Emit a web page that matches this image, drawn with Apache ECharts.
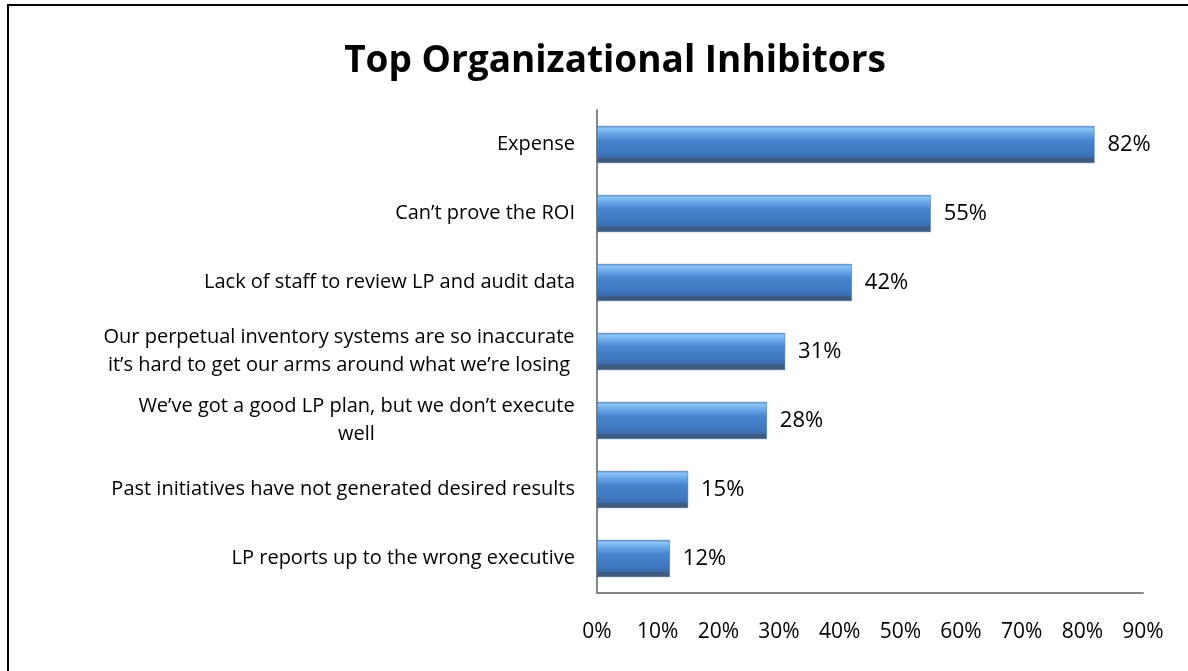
<!DOCTYPE html>
<html>
<head>
<meta charset="utf-8">
<title>Top Organizational Inhibitors</title>
<script src="https://cdn.jsdelivr.net/npm/echarts@6/dist/echarts.min.js"></script>
<style>
  html, body { margin: 0; padding: 0; background: #fff; }
  #chart { width: 1188px; height: 671px; }
</style>
</head>
<body>
<div id="chart"></div>
<script>
// 数据
const categories = [
  'Expense',
  'Can\u2019t prove the ROI',
  'Lack of staff to review LP and audit data',
  'Our perpetual inventory systems are so inaccurate\nit\u2019s hard to get our arms around what we\u2019re losing',
  'We\u2019ve got a good LP plan, but we don\u2019t execute\nwell',
  'Past initiatives have not generated desired results',
  'LP reports up to the wrong executive'
]
const percentValues = [82, 55, 42, 31, 28, 15, 12]
const tickValues = [0, 10, 20, 30, 40, 50, 60, 70, 80, 90]

const labelSize = 20
const labelFont = labelSize + 'px "Open Sans"'

// multi-line labels are centred on their widest line, like the original
const measureCtx = document.createElement('canvas').getContext('2d')
measureCtx.font = labelFont
const rich = {}
categories.forEach((name, i) => {
  const lines = name.split('\n')
  if (lines.length > 1) {
    const w = Math.max(...lines.map(l => measureCtx.measureText(l).width))
    rich['c' + i] = {
      width: Math.ceil(w),
      align: 'center',
      fontSize: labelSize,
      lineHeight: 28,
      color: '#000',
      fontFamily: 'Open Sans'
    }
  }
})

const chart = echarts.init(document.getElementById('chart'))

const axisGray = '#868686'

const option = {
  backgroundColor: '#fff',
  animation: false,
  title: {
    text: 'Top Organizational Inhibitors',
    left: 610,
    top: 38,
    textAlign: 'center',
    textStyle: {
      fontFamily: 'Open Sans',
      fontWeight: 'bold',
      fontSize: 37,
      color: '#000'
    }
  },
  graphic: [
    {
      // outer frame, cut off on the right and bottom like the source image
      type: 'rect',
      shape: { x: 8, y: 5, width: 1400, height: 900 },
      style: { fill: 'none', stroke: '#000', lineWidth: 2 },
      silent: true
    }
  ],
  grid: {
    left: 597,
    right: 45,
    top: 110,
    bottom: 78
  },
  xAxis: {
    type: 'value',
    min: tickValues[0],
    max: tickValues[tickValues.length - 1],
    interval: tickValues[1] - tickValues[0],
    axisLine: { show: true, lineStyle: { color: axisGray, width: 2 } },
    axisTick: { show: false },
    splitLine: { show: false },
    axisLabel: {
      formatter: '{value}%',
      margin: 29,
      fontSize: 21,
      fontFamily: 'Open Sans',
      color: '#000'
    }
  },
  yAxis: {
    type: 'category',
    inverse: true,
    data: categories,
    axisLine: { show: true, lineStyle: { color: axisGray, width: 2 } },
    axisTick: { show: false },
    axisLabel: {
      margin: 22,
      fontSize: labelSize,
      lineHeight: 28,
      fontFamily: 'Open Sans',
      color: '#000',
      formatter: (value, idx) => {
        const key = 'c' + idx
        if (!rich[key]) return value
        return value.split('\n').map(l => '{' + key + '|' + l + '}').join('\n')
      },
      rich: rich
    }
  },
  series: [
    {
      type: 'bar',
      data: percentValues,
      barWidth: 37,
      itemStyle: {
        color: new echarts.graphic.LinearGradient(0, 0, 0, 1, [
          { offset: 0, color: '#5b97d6' },
          { offset: 0.07, color: '#8cc4f6' },
          { offset: 0.2, color: '#6aa7e8' },
          { offset: 0.38, color: '#4885d0' },
          { offset: 0.75, color: '#3d76bd' },
          { offset: 0.86, color: '#3a69a8' },
          { offset: 0.88, color: '#3e5b80' },
          { offset: 1, color: '#3e5a7c' }
        ]),
        borderColor: '#35649c',
        borderWidth: 0.5
      },
      label: {
        show: true,
        position: 'right',
        distance: 13,
        formatter: '{c}%',
        fontSize: 22,
        fontFamily: 'Open Sans',
        color: '#000'
      }
    }
  ]
}

chart.setOption(option)
</script>
</body>
</html>
